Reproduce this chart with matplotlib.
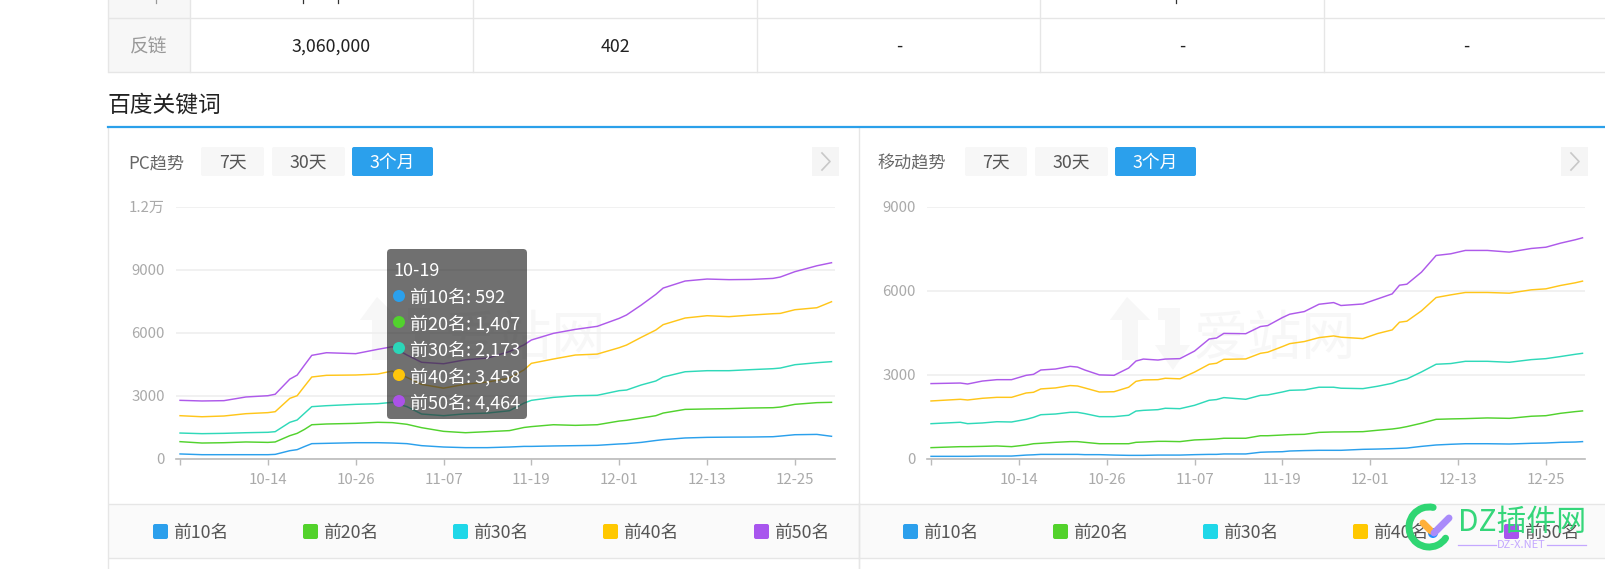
import matplotlib
matplotlib.use('Agg')
import matplotlib.pyplot as plt
from matplotlib.patches import FancyBboxPatch, Rectangle, Circle, Polygon, Arc

plt.rcParams['font.family'] = ['Noto Sans CJK SC', 'DejaVu Sans']

W, H = 1606, 569

# === Data ===
names = ['前10名', '前20名', '前30名', '前40名', '前50名']
line_colors = ['#2ba0ec', '#52d22e', '#2fd9b9', '#ffc61a', '#ae5aea']
legend_colors = ['#2b9fec', '#52d22b', '#1fd7e8', '#ffc800', '#a855ee']
tick_days = [0, 12, 24, 36, 48, 60, 72, 84]
tick_dates = ['', '10-14', '10-26', '11-07', '11-19', '12-01', '12-13', '12-25']

pc_days = [0, 3, 6, 9, 12, 13, 15, 16, 17, 18, 20, 24, 27, 29, 31, 33, 36, 39, 42, 45, 47,
           48, 51, 54, 57, 60, 61, 63, 65, 66, 69, 72, 75, 78, 81, 82, 84, 87, 89]
pc_10 = [240, 205, 205, 205, 205, 220, 395, 445, 592, 730, 745, 775, 775, 760, 730, 635, 570, 540, 540, 570, 600,
         600, 620, 635, 650, 715, 730, 790, 880, 920, 1000, 1030, 1040, 1045, 1060, 1090, 1155, 1170, 1080]
pc_20 = [825, 760, 775, 810, 790, 810, 1110, 1220, 1407, 1630, 1665, 1695, 1745, 1730, 1650, 1490, 1315, 1250, 1300, 1350, 1500,
         1540, 1630, 1600, 1630, 1805, 1840, 1950, 2060, 2185, 2360, 2380, 2395, 2425, 2440, 2470, 2600, 2680, 2695]
pc_30 = [1235, 1205, 1220, 1250, 1270, 1300, 1745, 1855, 2173, 2490, 2535, 2600, 2630, 2695, 2490, 2140, 2060, 2150, 2185, 2295, 2660,
         2790, 2930, 3010, 3030, 3250, 3280, 3520, 3710, 3900, 4150, 4200, 4200, 4250, 4295, 4325, 4485, 4580, 4630]
pc_40 = [2060, 2010, 2045, 2155, 2205, 2250, 2885, 3010, 3458, 3900, 3980, 3995, 4040, 4185, 3880, 3550, 3370, 3560, 3660, 3850, 4240,
         4550, 4755, 4945, 4990, 5295, 5420, 5785, 6135, 6390, 6705, 6815, 6770, 6845, 6910, 6925, 7100, 7195, 7480]
pc_50 = [2790, 2760, 2775, 2950, 3010, 3080, 3800, 3990, 4464, 4930, 5055, 5010, 5215, 5340, 4945, 4600, 4530, 4720, 4800, 5110, 5430,
         5660, 5975, 6165, 6310, 6690, 6850, 7320, 7830, 8130, 8465, 8560, 8530, 8540, 8590, 8655, 8910, 9190, 9335]

mob_days = [0, 4, 5, 7, 9, 11, 13, 14, 15, 17, 19, 20, 21, 23, 25, 27, 28, 29, 31, 32, 34, 36, 38, 39, 40, 43, 45, 46,
            48, 49, 51, 53, 55, 56, 59, 61, 63, 64, 65, 67, 69, 71, 73, 76, 79, 82, 84, 86, 88, 89]
mob_10 = [95, 95, 95, 105, 105, 105, 140, 150, 165, 165, 165, 165, 155, 155, 140, 130, 130, 130, 140, 140, 140, 155, 165, 165, 180, 180, 240, 250,
          260, 285, 300, 310, 310, 310, 345, 355, 370, 380, 390, 450, 500, 525, 545, 545, 535, 560, 570, 595, 605, 620]
mob_20 = [405, 440, 440, 450, 465, 440, 500, 545, 560, 595, 620, 620, 595, 545, 545, 545, 595, 605, 630, 630, 620, 680, 700, 715, 740, 740, 830, 830,
          855, 870, 880, 950, 965, 965, 975, 1025, 1070, 1105, 1155, 1275, 1415, 1430, 1440, 1465, 1450, 1525, 1545, 1630, 1690, 1715]
mob_30 = [1260, 1310, 1260, 1285, 1330, 1320, 1415, 1485, 1580, 1605, 1665, 1665, 1620, 1510, 1510, 1560, 1710, 1735, 1760, 1810, 1795, 1915, 2095, 2120, 2190, 2130, 2270, 2285,
          2390, 2450, 2465, 2560, 2560, 2525, 2510, 2595, 2700, 2795, 2855, 3105, 3380, 3405, 3485, 3485, 3450, 3545, 3580, 3655, 3735, 3770]
mob_40 = [2070, 2130, 2105, 2165, 2200, 2200, 2355, 2380, 2500, 2535, 2620, 2605, 2535, 2390, 2400, 2560, 2770, 2820, 2830, 2880, 2860, 3100, 3380, 3415, 3555, 3570, 3770, 3810,
          4010, 4115, 4190, 4330, 4390, 4345, 4295, 4475, 4605, 4880, 4915, 5285, 5760, 5855, 5940, 5940, 5915, 6035, 6070, 6190, 6285, 6345]
mob_50 = [2690, 2710, 2675, 2780, 2830, 2830, 2985, 3020, 3175, 3210, 3305, 3280, 3175, 3000, 2985, 3245, 3495, 3565, 3530, 3565, 3580, 3850, 4280, 4315, 4480, 4470, 4725, 4760,
          5045, 5165, 5260, 5520, 5580, 5475, 5530, 5710, 5890, 6200, 6235, 6665, 7260, 7320, 7440, 7440, 7380, 7510, 7555, 7700, 7820, 7890]

tip_date = '10-19'
tip_values = ['592', '1,407', '2,173', '3,458', '4,464']
tip_colors = ['#2ba0ec', '#52d22e', '#2bd6b8', '#ffc60a', '#ab52e8']

fig = plt.figure(figsize=(W / 100, H / 100), dpi=100, facecolor='white')


def box(ax, x0, y0, x1, y1, fc, r=3, **kw):
    ax.add_patch(FancyBboxPatch((x0 + r, y0 + r), x1 - x0 - 2 * r, y1 - y0 - 2 * r,
                                boxstyle=f'round,pad={r},rounding_size={r}', fc=fc, ec='none', **kw))


# === Page behind the charts, in pixels ===
bg = fig.add_axes([0, 0, 1, 1], zorder=0)
bg.set_xlim(0, W)
bg.set_ylim(H, 0)
bg.axis('off')

border = '#e6e6e6'
bg.add_patch(Rectangle((109, 0), 81, 72, fc='#f7f7f7', ec='none'))
for y in [18, 72]:
    bg.plot([109, W], [y, y], color=border, lw=1)
for x in [190, 473.5, 757.5, 1040, 1324]:
    bg.plot([x, x], [0, 72], color=border, lw=1)
bg.plot([108.5, 108.5], [0, 72], color=border, lw=1)
bg.plot([108.5, 108.5], [127, H], color=border, lw=1)
bg.plot([859, 859], [127, H], color=border, lw=1)

# bottoms of the cut off row above
for x, col in [(156, '#999999'), (303, '#333333'), (338, '#333333'), (1176, '#333333')]:
    bg.plot([x, x], [0, 2.5], color=col, lw=0.9)

bg.text(149, 47, '反链', fontsize=13.5, color='#999999', ha='center', va='center')
bg.text(331.5, 47, '3,060,000', fontsize=12.8, color='#222222', ha='center', va='center')
bg.text(615, 47, '402', fontsize=12.8, color='#222222', ha='center', va='center')
for x in [899, 1182, 1466]:
    bg.text(x, 47, '-', fontsize=12.8, color='#222222', ha='center', va='center')

bg.text(108, 105.5, '百度关键词', fontsize=16.4, color='#222222', ha='left', va='center')
bg.plot([108, W], [127, 127], color='#2ba0ea', lw=1.6)

# legend band
bg.add_patch(Rectangle((109, 503.5), W - 109, 54, fc='#fafafa', ec='none'))
for y in [503.5, 557.5]:
    bg.plot([109, W], [y, y], color=border, lw=1)
bg.plot([859, 859], [503, H], color=border, lw=1)
legend_x = [153, 303, 453, 603, 754]
for off in [0, 750]:
    for lx, name, col in zip(legend_x, names, legend_colors):
        box(bg, lx + off, 524, lx + off + 15, 539, col, r=2)
        bg.text(lx + off + 20, 532.5, name, fontsize=12.8, color='#555555', ha='left', va='center')

# watermark and header of each panel
for off in [0, 750]:
    bg.text(444 + off, 339, '爱站网', fontsize=39, color='#f7f7f7', ha='left', va='center')
    bg.add_patch(Polygon([(377 + off, 297), (360 + off, 320), (372 + off, 320), (372 + off, 360),
                          (388 + off, 360), (388 + off, 320), (400 + off, 320)], fc='#f7f7f7', ec='none'))
    bg.add_patch(Polygon([(408 + off, 308), (430 + off, 308), (430 + off, 345), (440 + off, 345),
                          (423 + off, 370), (405 + off, 345), (415 + off, 345), (415 + off, 320), (408 + off, 320)],
                         fc='#f7f7f7', ec='none'))


def header(label, lx, b7, b30, b3, chev):
    bg.text(lx, 163, label, fontsize=12.3, color='#666666', ha='left', va='center')
    box(bg, b7[0], 147, b7[1], 176, '#f7f7f7', r=2)
    box(bg, b30[0], 147, b30[1], 176, '#f7f7f7', r=2)
    box(bg, b3[0], 147, b3[1], 176, '#2ba0ec', r=2)
    bg.text(sum(b7) / 2, 163, '7天', fontsize=12.8, color='#555555', ha='center', va='center')
    bg.text(sum(b30) / 2, 163, '30天', fontsize=12.8, color='#555555', ha='center', va='center')
    bg.text(sum(b3) / 2, 163, '3个月', fontsize=12.8, color='white', ha='center', va='center')
    bg.add_patch(Rectangle((chev, 147), 27, 29, fc='#f5f5f5', ec='none'))
    bg.plot([chev + 10, chev + 18, chev + 10], [153, 161.5, 170], color='#c8c8c8', lw=1.2)


header('PC趋势', 128, (201, 264), (272, 345), (352, 433), 812)
header('移动趋势', 877, (965, 1027), (1035, 1108), (1115, 1196), 1561)


# === Charts ===
def draw_chart(left, right, days, series, ymax, yticks, ylabels):
    ax = fig.add_axes([left / W, 1 - 459 / H, (right - left) / W, (459 - 206.7) / H], zorder=1)
    ax.patch.set_alpha(0)
    for s, col in zip(series, line_colors):
        ax.plot(days, s, color=col, lw=1.05, solid_joinstyle='round', clip_on=False, zorder=3)
    ax.set_xlim(-0.55, -0.55 + (right - left) / 7.32)
    ax.set_ylim(0, ymax)
    ax.set_xticks(tick_days)
    ax.set_xticklabels(tick_dates)
    ax.set_yticks(yticks)
    ax.set_yticklabels(ylabels)
    ax.grid(axis='y', color='#f0f0f0', lw=1.3)
    ax.set_axisbelow(True)
    for side in ['top', 'left', 'right']:
        ax.spines[side].set_visible(False)
    ax.spines['bottom'].set_color('#bbbbbb')
    ax.spines['bottom'].set_linewidth(1.2)
    ax.tick_params(axis='x', length=4, width=1, color='#bbbbbb', labelcolor='#aaaaaa', labelsize=10.8, pad=6)
    ax.tick_params(axis='y', length=0, labelcolor='#aaaaaa', labelsize=10.8, pad=8)
    return ax


draw_chart(176, 835, pc_days, [pc_10, pc_20, pc_30, pc_40, pc_50], 12000,
           [0, 3000, 6000, 9000, 12000], ['0', '3000', '6000', '9000', '1.2万'])
draw_chart(927, 1585, mob_days, [mob_10, mob_20, mob_30, mob_40, mob_50], 9000,
           [0, 3000, 6000, 9000], ['0', '3000', '6000', '9000'])

# === Tooltip and site logo on top ===
top = fig.add_axes([0, 0, 1, 1], zorder=2)
top.set_xlim(0, W)
top.set_ylim(H, 0)
top.axis('off')
top.patch.set_alpha(0)

box(top, 387, 249, 527, 419, (0.2, 0.2, 0.2, 0.7), r=4)
top.text(393, 271, tip_date, fontsize=13, color='white', ha='left', va='center')
for y, name, val, col in zip([296, 322, 348, 375, 401], names, tip_values, tip_colors):
    top.add_patch(Circle((399, y), 6, fc=col, ec='none'))
    top.text(410, y + 2, f'{name}: {val}', fontsize=13, color='white', ha='left', va='center')

green = '#2fd673'
top.add_patch(Arc((1429, 527), 40, 40, theta1=34, theta2=282, color=green, lw=5, capstyle='round'))
top.plot([1423, 1431], [523, 531], color='#ffb03a', lw=5, solid_capstyle='round')
top.plot([1434, 1449], [533, 518], color='#a98bfa', lw=5, solid_capstyle='round')
top.add_patch(Circle((1433, 533), 5, fc='#1f8fff', ec='none'))
top.text(1458, 522, 'DZ插件网', fontsize=21.5, color='#35d67a', ha='left', va='center')
top.plot([1458, 1496], [545, 545], color='#c4a8ff', lw=0.9)
top.plot([1547, 1586], [545, 545], color='#c4a8ff', lw=0.9)
top.text(1521.5, 545, 'DZ-X.NET', fontsize=8, color='#c4a8ff', ha='center', va='center')

fig.savefig('out.png', dpi=100)
